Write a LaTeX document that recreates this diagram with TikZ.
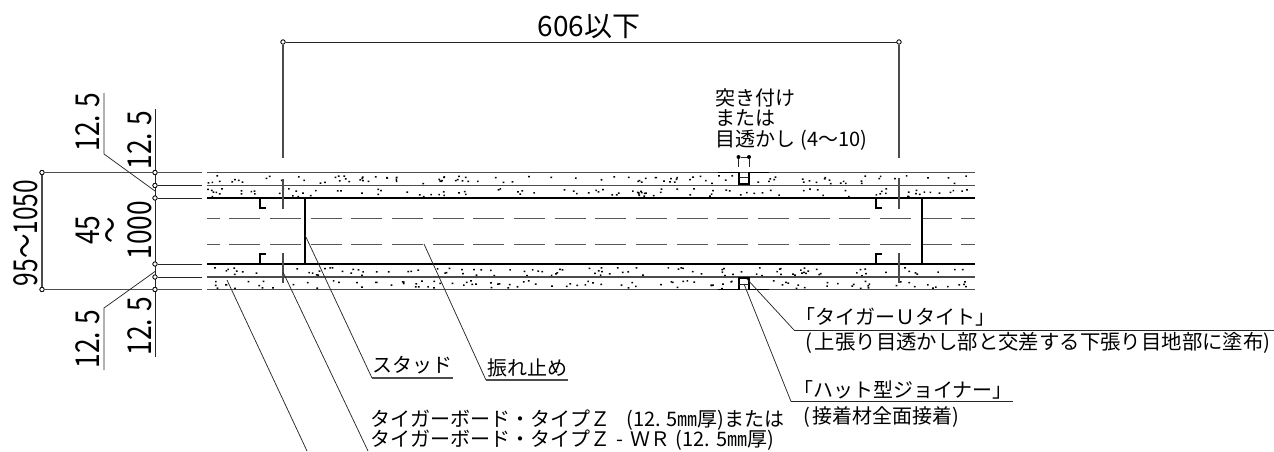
\documentclass[tikz,border=0pt]{standalone}
\usepackage{fontspec}
\setmainfont{Noto Sans CJK JP}
\newcommand{\bodyjp}{\fontsize{15pt}{16pt}\selectfont}
\newcommand{\dimjp}{\fontsize{24.7pt}{26pt}\selectfont}
\newcommand{\wZ}{\char"FF3A\relax}
\newcommand{\wU}{\char"FF35\relax}
\newcommand{\wW}{\char"FF37\relax}
\newcommand{\wR}{\char"FF32\relax}
\tikzset{
  thinline/.style={line width=0.55pt,black!85},
  midline/.style={line width=0.8pt,black!70},
  thickline/.style={line width=1.5pt,black},
  hatline/.style={line width=1.4pt,black},
  dashline/.style={line width=0.8pt,black!65,dash pattern=on 23.2pt off 7.3pt},
  knot/.style={circle,draw=black,fill=white,line width=0.55pt,inner sep=0pt,minimum size=3.2pt},
  dotknot/.style={circle,fill=black,inner sep=0pt,minimum size=3pt},
  lab/.style={inner sep=0pt,anchor=west,align=left},
  rot/.style={inner sep=0pt,rotate=90,anchor=center,xscale=0.8},
}
\begin{document}
\begin{tikzpicture}[x=0.75pt,y=-0.75pt]
\useasboundingbox (0,0) rectangle (1274,451);
% stipple
\pgfmathsetseed{11}
\fill[black] \foreach \yt in {175,188,267,280}{
  \foreach \i in {1,...,105}{
    \pgfextra{\pgfmathsetmacro\xx{207+rnd*766}\pgfmathsetmacro\yy{\yt+rnd*8}}
    (\xx,\yy) rectangle ++(1.7,1.5)
  }
};
% knots
\node[knot] (da) at (283,42) {};
\node[knot] (db) at (899,42) {};
\node[knot] (ha) at (42,172.5) {};
\node[knot] (hb) at (42,289.5) {};
\node[knot] (k1) at (155,172.5) {};
\node[knot] (k2) at (155,185.5) {};
\node[knot] (k3) at (155,198) {};
\node[knot] (k4) at (155,264) {};
\node[knot] (k5) at (155,277) {};
\node[knot] (k6) at (155,289.5) {};
\node[dotknot] (ga) at (738.5,157) {};
\node[dotknot] (gb) at (749,157) {};
% named coordinates
\coordinate (ea) at (283,158); \coordinate (eb) at (899,158);
\coordinate (st) at (155.5,109); \coordinate (sb) at (155.5,357);
\coordinate (s1) at (202,172.5); \coordinate (s2) at (202,185.5); \coordinate (s3) at (202,198);
\coordinate (s4) at (202,264); \coordinate (s5) at (202,277); \coordinate (s6) at (202,289.5);
% dimension lines
\draw[midline] (ea) -- (da); \draw[thinline] (da) -- (db); \draw[midline] (db) -- (eb);
\draw[midline] (s1) -- (k1) -- (ha) -- (hb) -- (k6) -- (s6);
\draw[thinline] (s2) -- (k2);
\draw[thinline] (s3) -- (k3);
\draw[thinline] (s4) -- (k4);
\draw[thinline] (s5) -- (k5);
\draw[thinline] (st) -- (sb);
\foreach \k in {k1,k2,k3,k4,k5,k6,ha,hb,da,db}{\node[knot] at (\k) {};}
% board lines
\draw[midline] (207,172.5) -- (975,172.5);
\draw[midline] (207,185.5) -- (975,185.5);
\draw[thickline] (207,198) -- (975,198);
\draw[thickline] (207,264) -- (975,264);
\draw[midline] (207,277) -- (975,277);
\draw[midline] (207,289.5) -- (975,289.5);
\draw[dashline,dash phase=13.7pt] (207,218.5) -- (975,218.5);
\draw[dashline,dash phase=13.7pt] (207,244.5) -- (975,244.5);
% studs
\draw[line width=1.1pt] (305,198) -- (305,264);
\draw[line width=1.1pt] (922,198) -- (922,264);
\draw[line width=1pt] (260,198) -- (260,208) -- (266,208);
\draw[line width=1pt] (260,264) -- (260,254) -- (266,254);
\draw[line width=1pt] (876,198) -- (876,208) -- (882,208);
\draw[line width=1pt] (876,264) -- (876,254) -- (882,254);
\draw[midline] (283,179) -- (283,209);
\draw[midline] (283,253) -- (283,283);
\draw[midline] (899,178) -- (899,209);
\draw[midline] (899,253) -- (899,283);
% joints
\fill[white] (739.5,173) rectangle (748.5,184);
\draw[hatline] (718,172.5) -- (739,172.5) -- (739,184) -- (749,184) -- (749,172.5) -- (769,172.5);
\draw[thinline] (739,177) -- (749,177);
\fill[white] (739.5,278) rectangle (748.5,289);
\draw[hatline] (718,289.5) -- (739,289.5) -- (739,278) -- (749,278) -- (749,289.5) -- (769,289.5);
\draw[thinline] (739,284) -- (749,284);
% gap dimension
\draw[thinline] (ga) -- (gb);
\coordinate (g1) at (738.5,167); \coordinate (g2) at (749,167);
\draw[thinline] (ga) -- (g1);
\draw[thinline] (gb) -- (g2);
% leaders
\coordinate (u1) at (104,93); \coordinate (u2) at (104,154); \coordinate (u3) at (155,191);
\draw[thinline] (u1) -- (u2) -- (u3);
\coordinate (l1) at (155,271.5); \coordinate (l2) at (104,308); \coordinate (l3) at (104,370);
\draw[thinline] (l1) -- (l2) -- (l3);
\coordinate (a1) at (305,235); \coordinate (a2) at (372,378); \coordinate (a3) at (453,378);
\draw[thinline] (a1) -- (a2); \draw[midline] (a2) -- (a3);
\coordinate (b1) at (424,244); \coordinate (b2) at (486,380); \coordinate (b3) at (568,380);
\draw[thinline] (b1) -- (b2); \draw[midline] (b2) -- (b3);
\coordinate (c1) at (283,272); \coordinate (c2) at (368,451);
\draw[thinline] (c1) -- (c2);
\coordinate (d1) at (227,280); \coordinate (d2) at (307,451);
\draw[thinline] (d1) -- (d2);
\coordinate (e1) at (747,279); \coordinate (e2) at (794,330); \coordinate (e3) at (1274,330);
\draw[thinline] (e1) -- (e2); \draw[thinline] (e2) -- (e3);
\coordinate (f1) at (744,284); \coordinate (f2) at (791,401.5); \coordinate (f3) at (1013,401.5);
\draw[thinline] (f1) -- (f2); \draw[thinline] (f2) -- (f3);
% texts
\node[inner sep=0pt] (t606) at (589,27) {\fontsize{21pt}{24pt}\selectfont 606以下};
\node[lab] (t1) at (715,98) {\bodyjp 突き付け};
\node[lab] (t2) at (715,118.5) {\bodyjp または};
\node[lab] (t3) at (715,140) {\bodyjp 目透かし\hspace{4pt}(4〜10)};
\node[rot] (v1) at (88,122) {\dimjp 12. 5};
\node[rot] (v2) at (140,140) {\dimjp 12. 5};
\node[rot] (v3) at (88,339) {\dimjp 12. 5};
\node[rot] (v4) at (140,326) {\dimjp 12. 5};
\node[rot,xscale=0.93] (v5) at (26,233) {\dimjp 95〜1050};
\node[rot] (v6) at (88,230) {\dimjp 45};
\node[rot] (v7) at (114,230) {\dimjp 〜};
\node[rot] (v8) at (140,230) {\dimjp 1000};
\node[lab] (t4) at (372,365) {\bodyjp スタッド};
\node[lab] (t5) at (487,368) {\bodyjp 振れ止め};
\node[lab] (t6) at (370,420) {\bodyjp タイガーボード・タイプ\wZ\hspace{12pt}(12. 5㎜厚)または};
\node[lab] (t7) at (370,440) {\bodyjp タイガーボード・タイプ\wZ\makebox[1em]{-}\wW\wR\hspace{4pt}(12. 5㎜厚)};
\node[lab] (t8) at (795,317) {\bodyjp 「タイガー\wU タイト」};
\node[lab] (t9) at (805,343) {\fontsize{15.3pt}{16pt}\selectfont (\hspace{2pt}上張り目透かし部と交差する下張り目地部に塗布)};
\node[lab] (t10) at (793,390) {\bodyjp 「ハット型ジョイナー」};
\node[lab] (t11) at (803,417) {\bodyjp (\hspace{2pt}接着材全面接着)};
\end{tikzpicture}
\end{document}
